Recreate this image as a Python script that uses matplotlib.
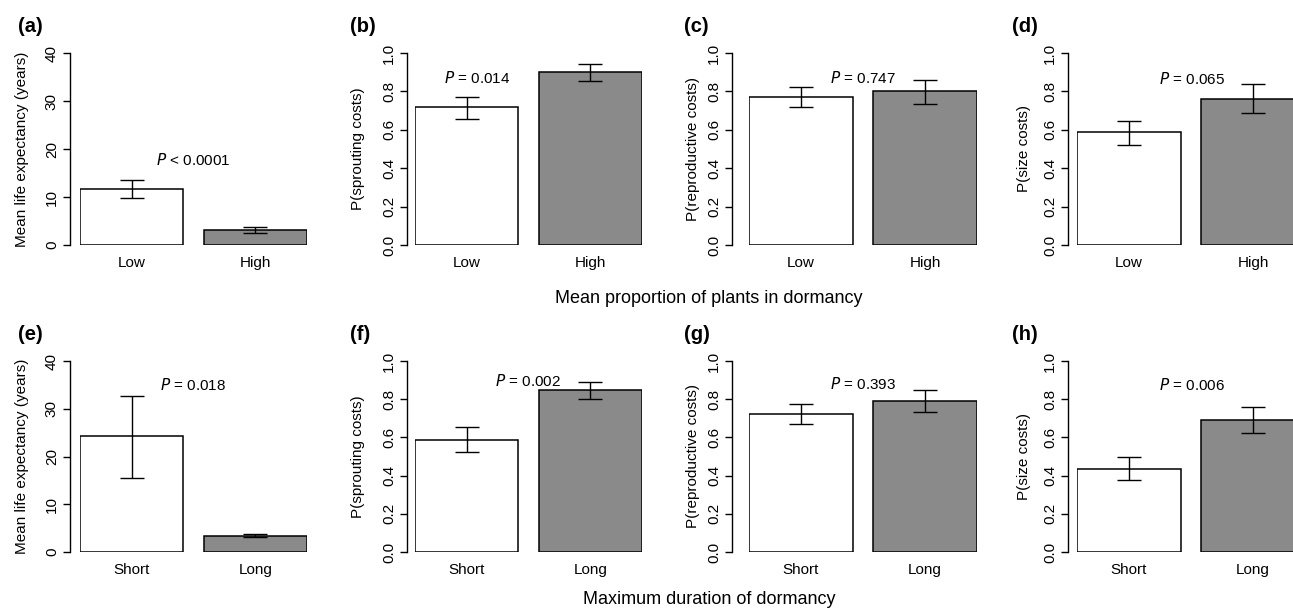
import numpy as np
import matplotlib.pyplot as plt

plt.rcParams['font.family'] = ['Liberation Sans', 'DejaVu Sans']

# groups
prop_groups = ['Low', 'High']
dur_groups = ['Short', 'Long']

# mean proportion of plants in dormancy (top row): mean, lower, upper
life_prop = [11.7, 3.1]
life_prop_lo = [9.7, 2.6]
life_prop_hi = [13.6, 3.7]
sprout_prop = [0.717, 0.899]
sprout_prop_lo = [0.657, 0.852]
sprout_prop_hi = [0.772, 0.943]
repro_prop = [0.769, 0.800]
repro_prop_lo = [0.717, 0.734]
repro_prop_hi = [0.821, 0.859]
size_prop = [0.586, 0.763]
size_prop_lo = [0.523, 0.689]
size_prop_hi = [0.645, 0.840]

# maximum duration of dormancy (bottom row)
life_dur = [24.2, 3.4]
life_dur_lo = [15.6, 3.1]
life_dur_hi = [32.7, 3.8]
sprout_dur = [0.589, 0.848]
sprout_dur_lo = [0.523, 0.800]
sprout_dur_hi = [0.653, 0.892]
repro_dur = [0.721, 0.793]
repro_dur_lo = [0.669, 0.735]
repro_dur_hi = [0.777, 0.850]
size_dur = [0.436, 0.692]
size_dur_lo = [0.375, 0.625]
size_dur_hi = [0.497, 0.758]

p_labels = ['< 0.0001', '= 0.014', '= 0.747', '= 0.065',
            '= 0.018', '= 0.002', '= 0.393', '= 0.006']
panel_tags = ['(a)', '(b)', '(c)', '(d)', '(e)', '(f)', '(g)', '(h)']
ylabels = ['Mean life expectancy (years)', 'P(sprouting costs)',
           'P(reproductive costs)', 'P(size costs)']

panels = [
    (prop_groups, life_prop, life_prop_lo, life_prop_hi),
    (prop_groups, sprout_prop, sprout_prop_lo, sprout_prop_hi),
    (prop_groups, repro_prop, repro_prop_lo, repro_prop_hi),
    (prop_groups, size_prop, size_prop_lo, size_prop_hi),
    (dur_groups, life_dur, life_dur_lo, life_dur_hi),
    (dur_groups, sprout_dur, sprout_dur_lo, sprout_dur_hi),
    (dur_groups, repro_dur, repro_dur_lo, repro_dur_hi),
    (dur_groups, size_dur, size_dur_lo, size_dur_hi),
]

# layout in pixels: (axis line x, first bar left, last bar right, ylabel x)
W, H = 1293, 611
cols = [(70, 80, 307, 22), (407, 415, 642, 358), (732, 749, 977, 693), (1068, 1077, 1305, 1024)]
rows = [(245, 53), (552, 361)]
tag_y = [27, 335]
xlab_y = [299, 600]
# where the P value sits, in data units of each panel
p_pos = [(1.3, 17.7), (0.8, 0.87), (1.3, 0.87), (1.31, 0.865),
         (1.3, 35.0), (1.295, 0.895), (1.3, 0.88), (1.31, 0.874)]

fig = plt.figure(figsize=(W / 100, H / 100), dpi=100)
fig.patch.set_facecolor('white')

centers = np.array([0.7, 1.9])
for i, (groups, vals, lo, hi) in enumerate(panels):
    r, c = divmod(i, 4)
    axis_x, x1, x2, ylab_x = cols[c]
    y0, y1 = rows[r]
    ax = fig.add_axes([x1 / W, (H - y0) / H, (x2 - x1) / W, (y0 - y1) / H])
    vals = np.array(vals)
    err = [vals - np.array(lo), np.array(hi) - vals]
    ax.bar(centers, vals, width=1.0, color=['white', '#8a8a8a'],
           edgecolor='black', linewidth=1.1)
    ax.errorbar(centers, vals, yerr=err, fmt='none', ecolor='black',
                elinewidth=1.0, capsize=8.5, capthick=1.0, clip_on=False)
    ax.set_xlim(0.2, 2.4)
    if c == 0:
        ax.set_ylim(0, 40)
        ax.set_yticks([0, 10, 20, 30, 40])
    else:
        ax.set_ylim(0, 1.0)
        ax.set_yticks([0.0, 0.2, 0.4, 0.6, 0.8, 1.0])
        ax.set_yticklabels(['0.0', '0.2', '0.4', '0.6', '0.8', '1.0'])
    ax.set_xticks(centers)
    ax.set_xticklabels(groups)
    for s in ['top', 'right', 'bottom']:
        ax.spines[s].set_visible(False)
    ax.spines['left'].set_position(('outward', (x1 - axis_x) * 0.72))
    ax.spines['left'].set_linewidth(1.0)
    ax.tick_params(axis='x', length=0, pad=8, labelsize=11)
    ax.tick_params(axis='y', length=5, width=1.0, pad=3, labelsize=11)
    for lab in ax.get_yticklabels():
        lab.set_rotation(90)
        lab.set_va('center')
    ax.patch.set_visible(False)
    ax.set_ylabel(ylabels[c], fontsize=11, va='center')
    ax.yaxis.set_label_coords(ylab_x / W, 1 - (y0 + y1) / 2 / H, transform=fig.transFigure)

    px, py = p_pos[i]
    ax.text(px, py, r'$\it{P}$ ' + p_labels[i], fontsize=11, ha='center', va='center')

    tag_x = 18 if c == 0 else x1 - 65
    fig.text(tag_x / W, 1 - tag_y[r] / H, panel_tags[i], fontsize=14.5,
             fontweight='bold', ha='left', va='center')

fig.text(709 / W, 1 - xlab_y[0] / H, 'Mean proportion of plants in dormancy',
         fontsize=13, ha='center', va='center')
fig.text(709 / W, 1 - xlab_y[1] / H, 'Maximum duration of dormancy',
         fontsize=13, ha='center', va='center')

fig.savefig('out.png', dpi=100, facecolor='white')
